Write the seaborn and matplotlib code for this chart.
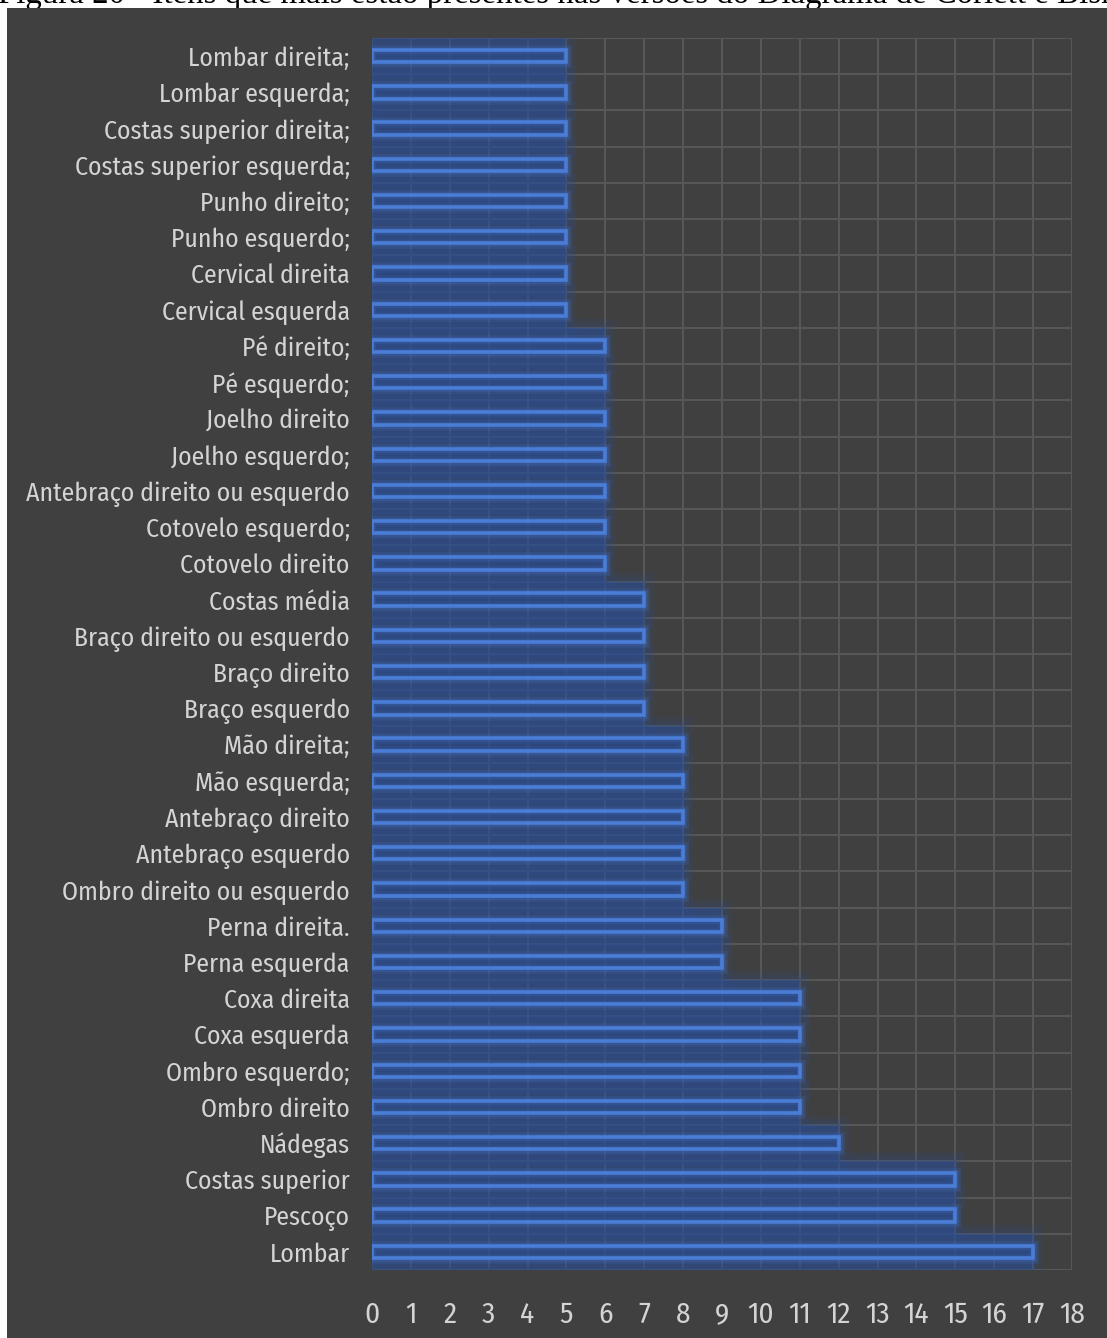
import matplotlib
matplotlib.use("Agg")
import matplotlib.pyplot as plt
import matplotlib.patheffects as pe
from matplotlib import font_manager
from matplotlib.patches import Rectangle
import seaborn as sns
import pandas as pd

# Body regions and how many diagram versions include each one
regions = [
    "Lombar direita;", "Lombar esquerda;", "Costas superior direita;",
    "Costas superior esquerda;", "Punho direito;", "Punho esquerdo;",
    "Cervical direita", "Cervical esquerda", "Pé direito;", "Pé esquerdo;",
    "Joelho direito", "Joelho esquerdo;", "Antebraço direito ou esquerdo",
    "Cotovelo esquerdo;", "Cotovelo direito", "Costas média",
    "Braço direito ou esquerdo", "Braço direito", "Braço esquerdo",
    "Mão direita;", "Mão esquerda;", "Antebraço direito", "Antebraço esquerdo",
    "Ombro direito ou esquerdo", "Perna direita.", "Perna esquerda",
    "Coxa direita", "Coxa esquerda", "Ombro esquerdo;", "Ombro direito",
    "Nádegas", "Costas superior", "Pescoço", "Lombar",
]
counts = [
    5, 5, 5, 5, 5, 5, 5, 5, 6, 6,
    6, 6, 6, 6, 6, 7, 7, 7, 7, 8,
    8, 8, 8, 8, 9, 9, 11, 11, 11, 11,
    12, 15, 15, 17,
]
x_ticks = list(range(0, 19))
caption = ("Figura 20 - Itens que mais estão presentes nas versões do "
           "Diagrama de Corlett e Bishop")

df = pd.DataFrame({"regiao": regions, "n": counts})

sns.set_theme(style="dark")

installed = {f.name for f in font_manager.fontManager.ttflist}


def pick(candidates, default):
    for name in candidates:
        if name in installed:
            return name
    return default


narrow = pick(["Fira Sans Condensed", "Open Sans Condensed", "Roboto Condensed",
               "PT Sans Narrow", "Archivo Narrow", "Liberation Sans Narrow"],
              "DejaVu Sans")
serif = pick(["Liberation Serif", "Tinos", "DejaVu Serif"], "DejaVu Serif")
label_font = [narrow, "DejaVu Sans"]
plt.rcParams["font.family"] = label_font

W, H = 1107, 1338
fig = plt.figure(figsize=(W / 100, H / 100), dpi=100)
fig.patch.set_facecolor("white")

# dark chart panel
fig.patches.append(Rectangle((7 / W, 0), 1 - 7 / W, 1 - 8 / H,
                             transform=fig.transFigure, facecolor="#404040",
                             edgecolor="none", zorder=-10))

# caption line running off the top edge, tucked under the panel
fig.text(-2 / W, 1 - 3 / H, caption, family=[serif, "DejaVu Serif"],
         fontsize=23.7, color="black", ha="left", va="baseline", zorder=-20)

left, right = 372 / W, 1072 / W
top, bottom = 1 - 38 / H, 1 - 1270 / H
ax = fig.add_axes([left, bottom, right - left, top - bottom])
ax.set_facecolor("none")

haze = "#2a4f9a"

# soft glow filling each row behind the bars
sns.barplot(data=df, x="n", y="regiao", orient="h", width=1.0,
            color=haze, linewidth=0, saturation=1, ax=ax, zorder=2)
# main outlined bars
sns.barplot(data=df, x="n", y="regiao", orient="h", width=0.34,
            color=haze, saturation=1, ax=ax, zorder=3)

n_rows = len(regions)
row_glow = ax.patches[:n_rows]
main_bars = ax.patches[n_rows:]
for p in row_glow:
    p.set_alpha(None)
    p.set_facecolor((0.165, 0.31, 0.60, 0.36))
    p.set_path_effects([
        pe.Stroke(linewidth=14, foreground=haze, alpha=0.10),
        pe.Stroke(linewidth=7, foreground=haze, alpha=0.14),
        pe.Normal(),
    ])
for p in main_bars:
    p.set_alpha(None)
    p.set_facecolor((0.165, 0.29, 0.55, 0.15))
    p.set_edgecolor("#4a7dd6")
    p.set_linewidth(2.6)
    p.set_path_effects([
        pe.Stroke(linewidth=8, foreground="#3f6cc0", alpha=0.2),
        pe.Stroke(linewidth=4.8, foreground="#3f6cc0", alpha=0.3),
        pe.Normal(),
    ])

ax.set_xlim(0, 18)
ax.set_ylim(n_rows - 0.5, -0.5)
ax.set_xticks(x_ticks)
ax.set_xticklabels([str(t) for t in x_ticks])

# grid: vertical at each unit, horizontal at row boundaries
grid_col = "#585858"
for t in x_ticks:
    ax.axvline(t, color=grid_col, lw=1.4, zorder=1)
for k in range(n_rows + 1):
    ax.axhline(k - 0.5, color=grid_col, lw=1.4, zorder=1)
ax.grid(False)

for s in ax.spines.values():
    s.set_visible(False)

ax.set_xlabel("")
ax.set_ylabel("")
ax.tick_params(axis="y", length=0, pad=16, labelsize=18.5, labelcolor="#d4d4d4")
ax.tick_params(axis="x", length=0, pad=22, labelsize=21, labelcolor="#d4d4d4")
for lab in ax.get_xticklabels() + ax.get_yticklabels():
    lab.set_family(label_font)

fig.savefig("out.png", dpi=100, facecolor=fig.get_facecolor())
